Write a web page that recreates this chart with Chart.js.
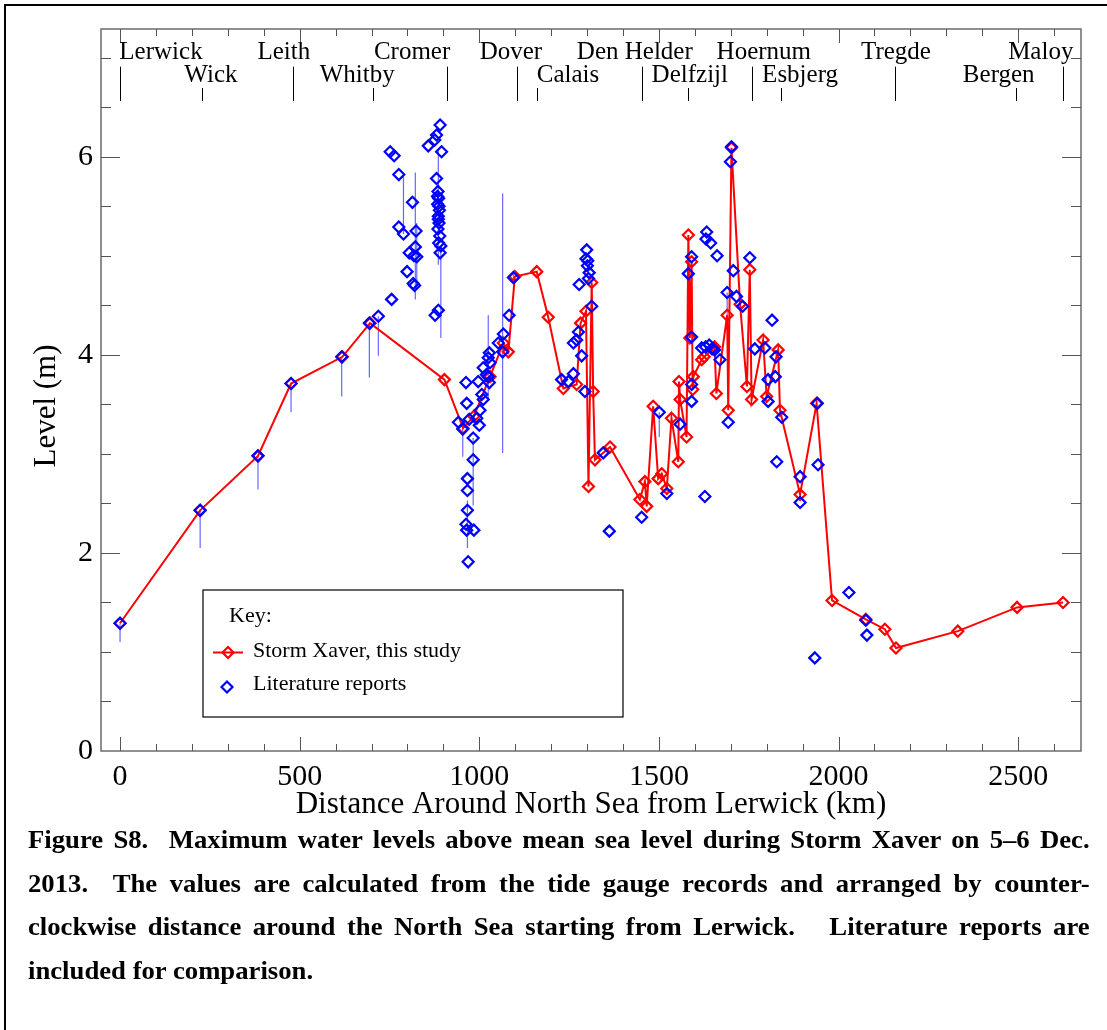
<!DOCTYPE html>
<html>
<head>
<meta charset="utf-8">
<script src="https://cdn.jsdelivr.net/npm/chart.js@4.4.1/dist/chart.umd.min.js"></script>
<style>
  html, body { margin: 0; padding: 0; background: #fff; }
  body { width: 1107px; height: 1030px; position: relative; overflow: hidden; }
  #frame { position: absolute; left: 4px; top: 4px; width: 1200px; height: 1200px;
           border-left: 2px solid #000; border-top: 2px solid #000; }
  #wrap { position: absolute; left: 0; top: 0; width: 1107px; height: 830px; }
  #caption { position: absolute; left: 28px; top: 818px; width: 974px; color: #000;
             font: bold 24.5px/43.5px "Liberation Serif", "Times New Roman", serif;
             transform: scaleX(1.09); transform-origin: 0 0; }
  #caption .j { text-align: justify; text-align-last: justify; }
</style>
</head>
<body>
<div id="frame"></div>
<div id="wrap"><canvas id="myChart" width="1107" height="830"></canvas></div>
<div id="caption">
  <div class="j">Figure S8.&nbsp; Maximum water levels above mean sea level during Storm Xaver on 5–6 Dec.</div>
  <div class="j">2013.&nbsp; The values are calculated from the tide gauge records and arranged by counter-</div>
  <div class="j">clockwise distance around the North Sea starting from Lerwick.&nbsp;&nbsp; Literature reports are</div>
  <div>included for comparison.</div>
</div>
<script>
// Storm Xaver, this study (km from Lerwick, max level in m)
const stormKm = [0, 223, 384, 476, 619, 696, 903, 955, 985, 1030,
    1067, 1081, 1099, 1160, 1192, 1234, 1271, 1282, 1297, 1304,
    1313, 1317, 1322, 1364, 1447, 1461, 1466, 1484, 1498, 1508,
    1522, 1535, 1554, 1556, 1559, 1577, 1582, 1586, 1591, 1594,
    1596, 1619, 1626, 1655, 1660, 1690, 1693, 1702, 1726, 1745,
    1753, 1758, 1790, 1800, 1832, 1837, 1893, 1939, 1982, 2076,
    2129, 2160, 2332, 2497, 2625];
const stormLevel = [1.29, 2.43, 2.98, 3.71, 3.98, 4.32, 3.75, 3.26, 3.38, 3.78,
    4.12, 4.03, 4.79, 4.84, 4.38, 3.66, 3.70, 4.32, 4.44, 2.67,
    4.73, 3.63, 2.94, 3.07, 2.54, 2.72, 2.47, 3.48, 2.75, 2.80,
    2.65, 3.36, 2.92, 3.73, 3.55, 3.17, 5.21, 4.17, 4.94, 3.65,
    3.78, 3.95, 3.98, 4.08, 3.61, 4.40, 3.44, 6.09, 4.51, 3.68,
    4.86, 3.55, 4.15, 3.58, 4.05, 3.44, 2.59, 3.51, 1.52, 1.33,
    1.23, 1.04, 1.21, 1.45, 1.50];

// Literature reports
const litKm = [0, 223, 384, 476, 617, 694, 719, 752, 756, 763,
    776, 776, 789, 799, 805, 814, 816, 818, 820, 822,
    824, 826, 858, 876, 877, 881, 881, 884, 884, 885,
    885, 886, 886, 886, 887, 887, 888, 888, 889, 890,
    891, 891, 893, 895, 942, 954, 963, 963, 965, 965,
    967, 967, 967, 969, 972, 983, 983, 985, 993, 997,
    1000, 1002, 1007, 1011, 1011, 1020, 1025, 1025, 1028, 1028,
    1030, 1053, 1065, 1067, 1083, 1095, 1229, 1248, 1262, 1262,
    1271, 1276, 1278, 1285, 1294, 1297, 1299, 1301, 1302, 1304,
    1306, 1313, 1345, 1362, 1452, 1501, 1522, 1559, 1582, 1591,
    1591, 1591, 1591, 1619, 1628, 1630, 1631, 1633, 1640, 1644,
    1648, 1655, 1662, 1670, 1690, 1693, 1699, 1702, 1707, 1716,
    1733, 1753, 1767, 1795, 1804, 1804, 1815, 1824, 1826, 1828,
    1842, 1893, 1893, 1934, 1941, 1943, 2029, 2076, 2079];
const litLevel = [1.29, 2.43, 2.98, 3.71, 3.98, 4.32, 4.39, 6.05, 4.56, 6.01,
    5.82, 5.29, 5.22, 4.84, 5.03, 5.54, 4.72, 5.00, 4.70, 5.09,
    5.25, 4.99, 6.11, 6.17, 4.40, 6.22, 5.78, 5.52, 5.60, 5.65,
    5.27, 5.40, 4.45, 5.37, 5.58, 5.13, 5.33, 5.50, 5.46, 5.20,
    6.32, 5.03, 5.10, 6.05, 3.32, 3.25, 3.72, 2.29, 3.51, 2.23,
    2.75, 2.63, 2.43, 1.91, 3.35, 3.16, 2.94, 2.23, 3.36, 3.73,
    3.29, 3.44, 3.60, 3.87, 3.55, 3.80, 3.78, 3.97, 4.02, 3.72,
    3.92, 4.12, 4.03, 4.21, 4.40, 4.78, 3.75, 3.73, 3.81, 4.12,
    4.15, 4.23, 4.71, 3.99, 3.63, 4.97, 5.06, 4.90, 4.95, 4.77,
    4.83, 4.49, 3.01, 2.22, 2.36, 3.42, 2.60, 3.30, 4.82, 4.99,
    4.18, 3.70, 3.53, 4.07, 2.57, 4.08, 5.17, 5.24, 4.10, 5.13,
    4.06, 4.05, 5.00, 3.95, 4.63, 3.32, 5.95, 6.10, 4.85, 4.59,
    4.49, 4.98, 4.06, 4.07, 3.75, 3.53, 4.35, 3.78, 3.98, 2.92,
    3.37, 2.77, 2.51, 0.94, 3.51, 2.89, 1.60, 1.32, 1.17];

// error bars on the literature reports
const errKm = [0, 223, 384, 476, 617, 694, 719, 789, 822, 826, 886, 893, 954, 967, 983, 1025, 1065, 1095, 1501, 1582, 1690];
const errLow = [1.10, 2.05, 2.64, 3.42, 3.58, 3.77, 3.99, 5.22, 4.56, 4.66, 4.91, 4.17, 2.97, 2.05, 2.48, 3.55, 3.01, 4.72, 3.17, 4.25, 4.29];
const errHigh = [1.29, 2.43, 2.98, 3.71, 3.98, 4.32, 4.39, 5.80, 5.84, 5.33, 6.07, 5.10, 3.25, 2.53, 3.16, 4.40, 5.63, 4.85, 3.42, 4.82, 4.63];

// tide gauge stations along the top
const stationNames = ['Lerwick', 'Wick', 'Leith', 'Whitby', 'Cromer', 'Dover', 'Calais',
    'Den Helder', 'Delfzijl', 'Hoernum', 'Esbjerg', 'Tregde', 'Bergen', 'Maloy'];
const stationKm = [0, 229, 482, 705, 909, 1104, 1162, 1452, 1582, 1760, 1840, 2157, 2495, 2625];
const stationRow = [0, 1, 0, 1, 0, 0, 1, 0, 1, 0, 1, 0, 1, 0];
const stationLabelKm = [114, 253, 456, 660, 813, 1088, 1247, 1433, 1586, 1792, 1893, 2160, 2446, 2563];

const xTicks = [0, 500, 1000, 1500, 2000, 2500];
const yTicks = [0, 2, 4, 6];

const SERIF = '"Liberation Serif", "Times New Roman", serif';
const RED = '#ff0000';
const BLUE = '#0000ff';

const frameTicks = {
    id: 'frameTicks',
    afterDraw(chart) {
        const {ctx, chartArea: a, scales: {x, y}} = chart;
        ctx.save();
        ctx.strokeStyle = '#6b6b6b';
        ctx.lineWidth = 1.5;
        ctx.strokeRect(a.left, a.top, a.right - a.left, a.bottom - a.top);

        ctx.strokeStyle = '#555';
        ctx.lineWidth = 1;
        ctx.beginPath();
        for (let v = 0; v <= x.max; v += 100) {
            const px = Math.round(x.getPixelForValue(v)) + 0.5;
            const len = v % 500 === 0 ? 14 : 7;
            ctx.moveTo(px, a.bottom);
            ctx.lineTo(px, a.bottom - len);
            ctx.moveTo(px, a.top);
            ctx.lineTo(px, a.top + len);
        }
        for (let v = 0.5; v <= y.max; v += 0.5) {
            const py = Math.round(y.getPixelForValue(v)) + 0.5;
            const len = v % 2 === 0 ? 19 : 10;
            ctx.moveTo(a.left, py);
            ctx.lineTo(a.left + len, py);
            ctx.moveTo(a.right, py);
            ctx.lineTo(a.right - len, py);
        }
        ctx.stroke();
        ctx.restore();
    }
};

const stationLabels = {
    id: 'stationLabels',
    afterDraw(chart) {
        const {ctx, chartArea: a, scales: {x}} = chart;
        ctx.save();
        ctx.fillStyle = '#000';
        ctx.strokeStyle = '#000';
        ctx.lineWidth = 1;
        ctx.font = '25px ' + SERIF;
        ctx.textAlign = 'center';
        ctx.textBaseline = 'alphabetic';
        const baseline = [a.top + 30, a.top + 52.7];
        const lineTop = [a.top + 37.7, a.top + 59];
        ctx.beginPath();
        stationNames.forEach((name, i) => {
            const row = stationRow[i];
            ctx.fillText(name, x.getPixelForValue(stationLabelKm[i]), baseline[row]);
            const px = Math.round(x.getPixelForValue(stationKm[i])) + 0.5;
            ctx.moveTo(px, lineTop[row]);
            ctx.lineTo(px, a.top + 72);
        });
        ctx.stroke();
        ctx.restore();
    }
};

const axisTitles = {
    id: 'axisTitles',
    afterDraw(chart) {
        const {ctx, chartArea: a} = chart;
        ctx.save();
        ctx.fillStyle = '#000';
        ctx.font = '31px ' + SERIF;
        ctx.textAlign = 'center';
        ctx.textBaseline = 'alphabetic';
        ctx.fillText('Distance Around North Sea from Lerwick (km)', (a.left + a.right) / 2, a.bottom + 62);
        ctx.translate(55, 406);
        ctx.rotate(-Math.PI / 2);
        ctx.fillText('Level (m)', 0, 0);
        ctx.restore();
    }
};

function diamond(ctx, cx, cy, r, color) {
    ctx.beginPath();
    ctx.moveTo(cx - r, cy);
    ctx.lineTo(cx, cy - r);
    ctx.lineTo(cx + r, cy);
    ctx.lineTo(cx, cy + r);
    ctx.closePath();
    ctx.strokeStyle = color;
    ctx.lineWidth = 2.2;
    ctx.stroke();
}

const keyBox = {
    id: 'keyBox',
    afterDraw(chart) {
        const {ctx} = chart;
        ctx.save();
        ctx.fillStyle = '#fff';
        ctx.fillRect(203, 590, 420, 127);
        ctx.strokeStyle = '#000';
        ctx.lineWidth = 1.2;
        ctx.strokeRect(203, 590, 420, 127);

        ctx.fillStyle = '#000';
        ctx.font = '22px ' + SERIF;
        ctx.textBaseline = 'alphabetic';
        ctx.fillText('Key:', 229, 622);
        ctx.fillText('Storm Xaver, this study', 253, 657);
        ctx.fillText('Literature reports', 253, 690);

        ctx.strokeStyle = RED;
        ctx.lineWidth = 2;
        ctx.beginPath();
        ctx.moveTo(213, 652.5);
        ctx.lineTo(243, 652.5);
        ctx.stroke();
        diamond(ctx, 228, 652.5, 5.5, RED);
        diamond(ctx, 227, 687, 5.5, BLUE);
        ctx.restore();
    }
};

const stormData = stormKm.map((km, i) => ({x: km, y: stormLevel[i]}));
const litData = litKm.map((km, i) => ({x: km, y: litLevel[i]}));
const errData = [];
errKm.forEach((km, i) => {
    errData.push({x: km, y: errLow[i]}, {x: km, y: errHigh[i]}, {x: km, y: null});
});

const element = document.getElementById('myChart');

const config = {
    type: 'line',
    data: {
        datasets: [
            {
                label: 'Literature reports',
                data: litData,
                showLine: false,
                borderColor: BLUE,
                backgroundColor: 'rgba(0,0,0,0)',
                pointStyle: 'rectRot',
                pointRadius: 5.5,
                pointBorderWidth: 2.2,
                pointBorderColor: BLUE,
                pointBackgroundColor: 'rgba(0,0,0,0)',
                order: 1
            },
            {
                label: 'error bars',
                data: errData,
                borderColor: 'rgba(40,40,255,0.7)',
                borderWidth: 1.2,
                pointRadius: 0,
                spanGaps: false,
                order: 3
            },
            {
                label: 'Storm Xaver, this study',
                data: stormData,
                borderColor: RED,
                borderWidth: 2,
                tension: 0,
                pointStyle: 'rectRot',
                pointRadius: 5.5,
                pointBorderWidth: 2.2,
                pointBorderColor: RED,
                pointBackgroundColor: 'rgba(0,0,0,0)',
                order: 2
            }
        ]
    },
    options: {
        responsive: false,
        animation: false,
        events: [],
        layout: {
            padding: {left: 0, right: 26, top: 29, bottom: 0}
        },
        scales: {
            x: {
                type: 'linear',
                position: 'bottom',
                min: -53,
                max: 2675,
                afterFit: (scale) => { scale.height = 79; },
                afterBuildTicks: (scale) => { scale.ticks = xTicks.map(v => ({value: v})); },
                grid: {display: false, drawTicks: false},
                border: {display: false},
                ticks: {
                    padding: 8,
                    color: '#000',
                    maxRotation: 0,
                    autoSkip: false,
                    font: {family: SERIF, size: 30},
                    callback: (value) => String(value)
                }
            },
            y: {
                type: 'linear',
                min: 0,
                max: 7.29,
                afterFit: (scale) => { scale.width = 101; },
                afterBuildTicks: (scale) => { scale.ticks = yTicks.map(v => ({value: v})); },
                grid: {display: false, drawTicks: false},
                border: {display: false},
                ticks: {
                    padding: 8,
                    color: '#000',
                    font: {family: SERIF, size: 30},
                    callback: (value) => String(value)
                }
            }
        },
        plugins: {
            legend: {display: false},
            tooltip: {enabled: false}
        }
    },
    plugins: [frameTicks, stationLabels, axisTitles, keyBox]
};

window.xaverChart = new Chart(element, config);
</script>
</body>
</html>
